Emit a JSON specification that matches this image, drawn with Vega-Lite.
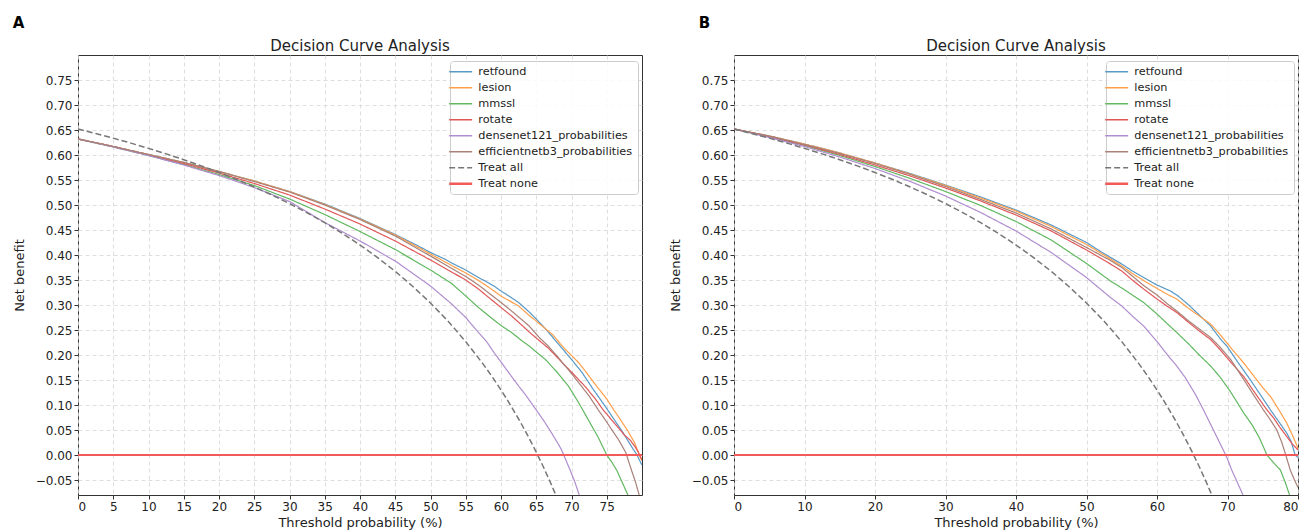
{
  "$schema": "https://vega.github.io/schema/vega-lite/v6.json",
  "padding": {"left": 12, "top": 15, "right": 5, "bottom": 0},
  "spacing": 25,
  "config": {
    "font": "DejaVu Sans",
    "view": {"stroke": "#333333", "strokeWidth": 1},
    "axis": {"labelFont": "DejaVu Sans", "labelFontSize": 12, "labelColor": "#222222", "titleFont": "DejaVu Sans", "titleFontSize": 13, "titleFontWeight": "normal", "titleColor": "#222222", "tickColor": "#333333", "tickSize": 4, "labelPadding": 2, "domain": false, "gridColor": "#d5d5d5", "gridDash": [4, 3], "gridWidth": 0.8},
    "legend": {"orient": "none", "legendX": 372, "legendY": 6, "fillColor": "rgba(255,255,255,0.85)", "strokeColor": "#cccccc", "cornerRadius": 3, "padding": 5, "symbolType": "stroke", "symbolSize": 529, "symbolStrokeWidth": 1.5, "labelFont": "DejaVu Sans", "labelFontSize": 11.3, "labelColor": "#222222", "rowPadding": 4, "labelOffset": 12, "labelLimit": 300}
  },
  "datasets": {
    "A": [
      {"series":"retfound","t":0,"nb":0.632},{"series":"retfound","t":5,"nb":0.617},{"series":"retfound","t":10,"nb":0.601},{"series":"retfound","t":15,"nb":0.585},{"series":"retfound","t":20,"nb":0.567},{"series":"retfound","t":25,"nb":0.548},{"series":"retfound","t":30,"nb":0.527},{"series":"retfound","t":35,"nb":0.502},{"series":"retfound","t":40,"nb":0.473},{"series":"retfound","t":45,"nb":0.441},{"series":"retfound","t":48,"nb":0.42},{"series":"retfound","t":50,"nb":0.405},{"series":"retfound","t":52,"nb":0.392},{"series":"retfound","t":53,"nb":0.384},{"series":"retfound","t":55,"nb":0.37},{"series":"retfound","t":56.8,"nb":0.355},{"series":"retfound","t":58,"nb":0.346},{"series":"retfound","t":59,"nb":0.338},{"series":"retfound","t":60,"nb":0.328},{"series":"retfound","t":61,"nb":0.319},{"series":"retfound","t":62.5,"nb":0.305},{"series":"retfound","t":64,"nb":0.286},{"series":"retfound","t":65,"nb":0.272},{"series":"retfound","t":66,"nb":0.257},{"series":"retfound","t":67,"nb":0.241},{"series":"retfound","t":68.5,"nb":0.216},{"series":"retfound","t":70,"nb":0.191},{"series":"retfound","t":71.5,"nb":0.165},{"series":"retfound","t":73,"nb":0.133},{"series":"retfound","t":74,"nb":0.113},{"series":"retfound","t":74.8,"nb":0.097},{"series":"retfound","t":76,"nb":0.072},{"series":"retfound","t":77.3,"nb":0.045},{"series":"retfound","t":78.5,"nb":0.017},{"series":"retfound","t":79.3,"nb":0.0},{"series":"retfound","t":79.7,"nb":-0.012},{"series":"retfound","t":80,"nb":-0.02},
      {"series":"lesion","t":0,"nb":0.632},{"series":"lesion","t":5,"nb":0.617},{"series":"lesion","t":10,"nb":0.601},{"series":"lesion","t":15,"nb":0.585},{"series":"lesion","t":20,"nb":0.567},{"series":"lesion","t":25,"nb":0.548},{"series":"lesion","t":30,"nb":0.527},{"series":"lesion","t":35,"nb":0.501},{"series":"lesion","t":40,"nb":0.472},{"series":"lesion","t":45,"nb":0.44},{"series":"lesion","t":50,"nb":0.402},{"series":"lesion","t":53,"nb":0.379},{"series":"lesion","t":55,"nb":0.364},{"series":"lesion","t":56.8,"nb":0.349},{"series":"lesion","t":58,"nb":0.338},{"series":"lesion","t":60,"nb":0.318},{"series":"lesion","t":61,"nb":0.31},{"series":"lesion","t":62.5,"nb":0.298},{"series":"lesion","t":64,"nb":0.279},{"series":"lesion","t":65,"nb":0.268},{"series":"lesion","t":66,"nb":0.256},{"series":"lesion","t":67.3,"nb":0.241},{"series":"lesion","t":69,"nb":0.213},{"series":"lesion","t":70,"nb":0.199},{"series":"lesion","t":71,"nb":0.185},{"series":"lesion","t":72,"nb":0.167},{"series":"lesion","t":73,"nb":0.148},{"series":"lesion","t":74,"nb":0.13},{"series":"lesion","t":75,"nb":0.112},{"series":"lesion","t":76,"nb":0.09},{"series":"lesion","t":76.5,"nb":0.08},{"series":"lesion","t":77.3,"nb":0.063},{"series":"lesion","t":78,"nb":0.048},{"series":"lesion","t":79,"nb":0.023},{"series":"lesion","t":79.7,"nb":-0.003},{"series":"lesion","t":80,"nb":-0.012},
      {"series":"mmssl","t":0,"nb":0.632},{"series":"mmssl","t":5,"nb":0.616},{"series":"mmssl","t":10,"nb":0.599},{"series":"mmssl","t":15,"nb":0.581},{"series":"mmssl","t":20,"nb":0.561},{"series":"mmssl","t":25,"nb":0.539},{"series":"mmssl","t":30,"nb":0.512},{"series":"mmssl","t":35,"nb":0.481},{"series":"mmssl","t":40,"nb":0.447},{"series":"mmssl","t":45,"nb":0.411},{"series":"mmssl","t":50,"nb":0.37},{"series":"mmssl","t":53,"nb":0.343},{"series":"mmssl","t":55,"nb":0.318},{"series":"mmssl","t":56.8,"nb":0.295},{"series":"mmssl","t":59,"nb":0.27},{"series":"mmssl","t":60,"nb":0.259},{"series":"mmssl","t":61.5,"nb":0.245},{"series":"mmssl","t":63,"nb":0.228},{"series":"mmssl","t":64,"nb":0.218},{"series":"mmssl","t":65,"nb":0.206},{"series":"mmssl","t":66.3,"nb":0.191},{"series":"mmssl","t":68,"nb":0.165},{"series":"mmssl","t":69.6,"nb":0.137},{"series":"mmssl","t":71,"nb":0.105},{"series":"mmssl","t":72.4,"nb":0.07},{"series":"mmssl","t":73.8,"nb":0.035},{"series":"mmssl","t":75,"nb":0.0},{"series":"mmssl","t":75.7,"nb":-0.014},{"series":"mmssl","t":76.4,"nb":-0.03},{"series":"mmssl","t":77.2,"nb":-0.055},{"series":"mmssl","t":78,"nb":-0.08},
      {"series":"rotate","t":0,"nb":0.632},{"series":"rotate","t":5,"nb":0.617},{"series":"rotate","t":10,"nb":0.6},{"series":"rotate","t":15,"nb":0.583},{"series":"rotate","t":20,"nb":0.564},{"series":"rotate","t":25,"nb":0.543},{"series":"rotate","t":30,"nb":0.52},{"series":"rotate","t":35,"nb":0.492},{"series":"rotate","t":40,"nb":0.462},{"series":"rotate","t":45,"nb":0.428},{"series":"rotate","t":50,"nb":0.39},{"series":"rotate","t":53,"nb":0.366},{"series":"rotate","t":55,"nb":0.35},{"series":"rotate","t":56.8,"nb":0.332},{"series":"rotate","t":58,"nb":0.318},{"series":"rotate","t":60,"nb":0.295},{"series":"rotate","t":61.5,"nb":0.278},{"series":"rotate","t":63,"nb":0.259},{"series":"rotate","t":64,"nb":0.246},{"series":"rotate","t":65.5,"nb":0.228},{"series":"rotate","t":66.7,"nb":0.214},{"series":"rotate","t":68,"nb":0.195},{"series":"rotate","t":69,"nb":0.18},{"series":"rotate","t":70,"nb":0.166},{"series":"rotate","t":71,"nb":0.151},{"series":"rotate","t":72,"nb":0.136},{"series":"rotate","t":73.5,"nb":0.11},{"series":"rotate","t":74.5,"nb":0.09},{"series":"rotate","t":75.7,"nb":0.07},{"series":"rotate","t":76.5,"nb":0.057},{"series":"rotate","t":77.5,"nb":0.04},{"series":"rotate","t":78.3,"nb":0.03},{"series":"rotate","t":79,"nb":0.017},{"series":"rotate","t":79.5,"nb":0.005},{"series":"rotate","t":80,"nb":-0.01},
      {"series":"densenet121_probabilities","t":0,"nb":0.632},{"series":"densenet121_probabilities","t":5,"nb":0.616},{"series":"densenet121_probabilities","t":10,"nb":0.599},{"series":"densenet121_probabilities","t":15,"nb":0.58},{"series":"densenet121_probabilities","t":20,"nb":0.559},{"series":"densenet121_probabilities","t":25,"nb":0.535},{"series":"densenet121_probabilities","t":30,"nb":0.507},{"series":"densenet121_probabilities","t":35,"nb":0.465},{"series":"densenet121_probabilities","t":40,"nb":0.428},{"series":"densenet121_probabilities","t":45,"nb":0.388},{"series":"densenet121_probabilities","t":50,"nb":0.338},{"series":"densenet121_probabilities","t":53,"nb":0.302},{"series":"densenet121_probabilities","t":55,"nb":0.275},{"series":"densenet121_probabilities","t":56.8,"nb":0.245},{"series":"densenet121_probabilities","t":58,"nb":0.226},{"series":"densenet121_probabilities","t":59,"nb":0.205},{"series":"densenet121_probabilities","t":60,"nb":0.186},{"series":"densenet121_probabilities","t":61.5,"nb":0.157},{"series":"densenet121_probabilities","t":62.5,"nb":0.138},{"series":"densenet121_probabilities","t":63.5,"nb":0.12},{"series":"densenet121_probabilities","t":64.5,"nb":0.1},{"series":"densenet121_probabilities","t":65.3,"nb":0.084},{"series":"densenet121_probabilities","t":66,"nb":0.07},{"series":"densenet121_probabilities","t":67,"nb":0.048},{"series":"densenet121_probabilities","t":68,"nb":0.025},{"series":"densenet121_probabilities","t":68.6,"nb":0.01},{"series":"densenet121_probabilities","t":69.2,"nb":-0.01},{"series":"densenet121_probabilities","t":69.8,"nb":-0.03},{"series":"densenet121_probabilities","t":70.5,"nb":-0.055},{"series":"densenet121_probabilities","t":71.1,"nb":-0.08},
      {"series":"efficientnetb3_probabilities","t":0,"nb":0.632},{"series":"efficientnetb3_probabilities","t":5,"nb":0.617},{"series":"efficientnetb3_probabilities","t":10,"nb":0.601},{"series":"efficientnetb3_probabilities","t":15,"nb":0.585},{"series":"efficientnetb3_probabilities","t":20,"nb":0.567},{"series":"efficientnetb3_probabilities","t":25,"nb":0.547},{"series":"efficientnetb3_probabilities","t":30,"nb":0.526},{"series":"efficientnetb3_probabilities","t":35,"nb":0.5},{"series":"efficientnetb3_probabilities","t":40,"nb":0.471},{"series":"efficientnetb3_probabilities","t":45,"nb":0.438},{"series":"efficientnetb3_probabilities","t":50,"nb":0.398},{"series":"efficientnetb3_probabilities","t":55,"nb":0.357},{"series":"efficientnetb3_probabilities","t":56.8,"nb":0.34},{"series":"efficientnetb3_probabilities","t":58,"nb":0.327},{"series":"efficientnetb3_probabilities","t":60,"nb":0.305},{"series":"efficientnetb3_probabilities","t":61.5,"nb":0.288},{"series":"efficientnetb3_probabilities","t":63,"nb":0.27},{"series":"efficientnetb3_probabilities","t":64,"nb":0.258},{"series":"efficientnetb3_probabilities","t":65.5,"nb":0.234},{"series":"efficientnetb3_probabilities","t":66.7,"nb":0.218},{"series":"efficientnetb3_probabilities","t":68,"nb":0.197},{"series":"efficientnetb3_probabilities","t":69,"nb":0.18},{"series":"efficientnetb3_probabilities","t":70,"nb":0.163},{"series":"efficientnetb3_probabilities","t":71,"nb":0.145},{"series":"efficientnetb3_probabilities","t":72.5,"nb":0.118},{"series":"efficientnetb3_probabilities","t":73.8,"nb":0.09},{"series":"efficientnetb3_probabilities","t":74.7,"nb":0.072},{"series":"efficientnetb3_probabilities","t":75.5,"nb":0.055},{"series":"efficientnetb3_probabilities","t":76.7,"nb":0.03},{"series":"efficientnetb3_probabilities","t":77.7,"nb":0.005},{"series":"efficientnetb3_probabilities","t":78.5,"nb":-0.03},{"series":"efficientnetb3_probabilities","t":79.1,"nb":-0.055},{"series":"efficientnetb3_probabilities","t":79.6,"nb":-0.08},
      {"series":"Treat all","t":0,"nb":0.652},{"series":"Treat all","t":2.5,"nb":0.6431},{"series":"Treat all","t":5,"nb":0.6337},{"series":"Treat all","t":7.5,"nb":0.6238},{"series":"Treat all","t":10,"nb":0.6133},{"series":"Treat all","t":12.5,"nb":0.6023},{"series":"Treat all","t":15,"nb":0.5906},{"series":"Treat all","t":17.5,"nb":0.5782},{"series":"Treat all","t":20,"nb":0.565},{"series":"Treat all","t":22.5,"nb":0.551},{"series":"Treat all","t":25,"nb":0.536},{"series":"Treat all","t":27.5,"nb":0.52},{"series":"Treat all","t":30,"nb":0.5029},{"series":"Treat all","t":32.5,"nb":0.4844},{"series":"Treat all","t":35,"nb":0.4646},{"series":"Treat all","t":37.5,"nb":0.4432},{"series":"Treat all","t":40,"nb":0.42},{"series":"Treat all","t":42.5,"nb":0.3948},{"series":"Treat all","t":45,"nb":0.3673},{"series":"Treat all","t":47.5,"nb":0.3371},{"series":"Treat all","t":50,"nb":0.304},{"series":"Treat all","t":52.5,"nb":0.2674},{"series":"Treat all","t":55,"nb":0.2267},{"series":"Treat all","t":57.5,"nb":0.1812},{"series":"Treat all","t":58.75,"nb":0.1564},{"series":"Treat all","t":60,"nb":0.13},{"series":"Treat all","t":61,"nb":0.1077},{"series":"Treat all","t":62.5,"nb":0.072},{"series":"Treat all","t":63,"nb":0.0595},{"series":"Treat all","t":64,"nb":0.0333},{"series":"Treat all","t":65,"nb":0.0057},{"series":"Treat all","t":66,"nb":-0.0235},{"series":"Treat all","t":67,"nb":-0.0546},{"series":"Treat all","t":68,"nb":-0.0875},
      {"series":"Treat none","t":0,"nb":0},{"series":"Treat none","t":80,"nb":0}
    ],
    "B": [
      {"series":"retfound","t":0,"nb":0.652},{"series":"retfound","t":5,"nb":0.638},{"series":"retfound","t":10,"nb":0.622},{"series":"retfound","t":15,"nb":0.604},{"series":"retfound","t":20,"nb":0.584},{"series":"retfound","t":25,"nb":0.563},{"series":"retfound","t":30,"nb":0.54},{"series":"retfound","t":35,"nb":0.516},{"series":"retfound","t":40,"nb":0.49},{"series":"retfound","t":45,"nb":0.46},{"series":"retfound","t":50,"nb":0.425},{"series":"retfound","t":52,"nb":0.407},{"series":"retfound","t":53.4,"nb":0.395},{"series":"retfound","t":55,"nb":0.382},{"series":"retfound","t":56.5,"nb":0.368},{"series":"retfound","t":58.1,"nb":0.355},{"series":"retfound","t":60,"nb":0.34},{"series":"retfound","t":61.9,"nb":0.328},{"series":"retfound","t":63,"nb":0.318},{"series":"retfound","t":64.5,"nb":0.3},{"series":"retfound","t":66,"nb":0.28},{"series":"retfound","t":67.6,"nb":0.258},{"series":"retfound","t":69,"nb":0.232},{"series":"retfound","t":69.9,"nb":0.218},{"series":"retfound","t":71.5,"nb":0.185},{"series":"retfound","t":73.2,"nb":0.151},{"series":"retfound","t":74.5,"nb":0.124},{"series":"retfound","t":76.1,"nb":0.09},{"series":"retfound","t":77.2,"nb":0.068},{"series":"retfound","t":78.4,"nb":0.044},{"series":"retfound","t":79,"nb":0.028},{"series":"retfound","t":79.6,"nb":0.0},{"series":"retfound","t":80,"nb":-0.005},
      {"series":"lesion","t":0,"nb":0.652},{"series":"lesion","t":5,"nb":0.638},{"series":"lesion","t":10,"nb":0.622},{"series":"lesion","t":15,"nb":0.604},{"series":"lesion","t":20,"nb":0.584},{"series":"lesion","t":25,"nb":0.562},{"series":"lesion","t":30,"nb":0.539},{"series":"lesion","t":35,"nb":0.514},{"series":"lesion","t":40,"nb":0.488},{"series":"lesion","t":45,"nb":0.457},{"series":"lesion","t":50,"nb":0.421},{"series":"lesion","t":53.4,"nb":0.392},{"series":"lesion","t":55,"nb":0.378},{"series":"lesion","t":56.5,"nb":0.363},{"series":"lesion","t":58.1,"nb":0.349},{"series":"lesion","t":60,"nb":0.333},{"series":"lesion","t":61.5,"nb":0.321},{"series":"lesion","t":62.8,"nb":0.312},{"series":"lesion","t":64.5,"nb":0.293},{"series":"lesion","t":66,"nb":0.278},{"series":"lesion","t":67.6,"nb":0.262},{"series":"lesion","t":69,"nb":0.24},{"series":"lesion","t":70.5,"nb":0.214},{"series":"lesion","t":72.3,"nb":0.184},{"series":"lesion","t":74,"nb":0.153},{"series":"lesion","t":75,"nb":0.135},{"series":"lesion","t":76.1,"nb":0.117},{"series":"lesion","t":77.3,"nb":0.09},{"series":"lesion","t":78.4,"nb":0.064},{"series":"lesion","t":79.2,"nb":0.04},{"series":"lesion","t":79.9,"nb":0.017},{"series":"lesion","t":80,"nb":0.01},
      {"series":"mmssl","t":0,"nb":0.652},{"series":"mmssl","t":5,"nb":0.636},{"series":"mmssl","t":10,"nb":0.619},{"series":"mmssl","t":15,"nb":0.599},{"series":"mmssl","t":20,"nb":0.577},{"series":"mmssl","t":25,"nb":0.553},{"series":"mmssl","t":30,"nb":0.527},{"series":"mmssl","t":35,"nb":0.499},{"series":"mmssl","t":40,"nb":0.467},{"series":"mmssl","t":45,"nb":0.43},{"series":"mmssl","t":50,"nb":0.383},{"series":"mmssl","t":53.4,"nb":0.348},{"series":"mmssl","t":55,"nb":0.334},{"series":"mmssl","t":56.5,"nb":0.32},{"series":"mmssl","t":58.1,"nb":0.305},{"series":"mmssl","t":60,"nb":0.282},{"series":"mmssl","t":61.5,"nb":0.262},{"series":"mmssl","t":62.8,"nb":0.245},{"series":"mmssl","t":64.5,"nb":0.222},{"series":"mmssl","t":66,"nb":0.2},{"series":"mmssl","t":67.6,"nb":0.178},{"series":"mmssl","t":69,"nb":0.155},{"series":"mmssl","t":70.5,"nb":0.125},{"series":"mmssl","t":72.3,"nb":0.084},{"series":"mmssl","t":73.5,"nb":0.06},{"series":"mmssl","t":74.5,"nb":0.035},{"series":"mmssl","t":75.6,"nb":0.0},{"series":"mmssl","t":76.5,"nb":-0.015},{"series":"mmssl","t":77.5,"nb":-0.03},{"series":"mmssl","t":78.2,"nb":-0.055},{"series":"mmssl","t":78.8,"nb":-0.08},
      {"series":"rotate","t":0,"nb":0.652},{"series":"rotate","t":5,"nb":0.637},{"series":"rotate","t":10,"nb":0.62},{"series":"rotate","t":15,"nb":0.601},{"series":"rotate","t":20,"nb":0.58},{"series":"rotate","t":25,"nb":0.558},{"series":"rotate","t":30,"nb":0.534},{"series":"rotate","t":35,"nb":0.508},{"series":"rotate","t":40,"nb":0.48},{"series":"rotate","t":45,"nb":0.448},{"series":"rotate","t":50,"nb":0.41},{"series":"rotate","t":53.4,"nb":0.382},{"series":"rotate","t":55,"nb":0.368},{"series":"rotate","t":56.5,"nb":0.35},{"series":"rotate","t":58.1,"nb":0.332},{"series":"rotate","t":60,"nb":0.312},{"series":"rotate","t":61.5,"nb":0.297},{"series":"rotate","t":62.8,"nb":0.285},{"series":"rotate","t":64.5,"nb":0.265},{"series":"rotate","t":66,"nb":0.248},{"series":"rotate","t":67.6,"nb":0.231},{"series":"rotate","t":69,"nb":0.21},{"series":"rotate","t":70.5,"nb":0.185},{"series":"rotate","t":72.3,"nb":0.157},{"series":"rotate","t":74,"nb":0.122},{"series":"rotate","t":75.6,"nb":0.09},{"series":"rotate","t":76.5,"nb":0.075},{"series":"rotate","t":77.4,"nb":0.056},{"series":"rotate","t":78.4,"nb":0.037},{"series":"rotate","t":79.2,"nb":0.022},{"series":"rotate","t":80,"nb":0.01},
      {"series":"densenet121_probabilities","t":0,"nb":0.652},{"series":"densenet121_probabilities","t":5,"nb":0.635},{"series":"densenet121_probabilities","t":10,"nb":0.617},{"series":"densenet121_probabilities","t":15,"nb":0.596},{"series":"densenet121_probabilities","t":20,"nb":0.573},{"series":"densenet121_probabilities","t":25,"nb":0.547},{"series":"densenet121_probabilities","t":30,"nb":0.518},{"series":"densenet121_probabilities","t":35,"nb":0.485},{"series":"densenet121_probabilities","t":40,"nb":0.448},{"series":"densenet121_probabilities","t":45,"nb":0.405},{"series":"densenet121_probabilities","t":50,"nb":0.355},{"series":"densenet121_probabilities","t":53.4,"nb":0.315},{"series":"densenet121_probabilities","t":55,"nb":0.298},{"series":"densenet121_probabilities","t":56.5,"nb":0.278},{"series":"densenet121_probabilities","t":58.1,"nb":0.258},{"series":"densenet121_probabilities","t":60,"nb":0.227},{"series":"densenet121_probabilities","t":61.5,"nb":0.2},{"series":"densenet121_probabilities","t":62.8,"nb":0.178},{"series":"densenet121_probabilities","t":64,"nb":0.155},{"series":"densenet121_probabilities","t":65.5,"nb":0.12},{"series":"densenet121_probabilities","t":66.6,"nb":0.09},{"series":"densenet121_probabilities","t":68,"nb":0.05},{"series":"densenet121_probabilities","t":69.4,"nb":0.01},{"series":"densenet121_probabilities","t":70,"nb":-0.008},{"series":"densenet121_probabilities","t":70.6,"nb":-0.03},{"series":"densenet121_probabilities","t":71.4,"nb":-0.055},{"series":"densenet121_probabilities","t":72.2,"nb":-0.08},
      {"series":"efficientnetb3_probabilities","t":0,"nb":0.652},{"series":"efficientnetb3_probabilities","t":5,"nb":0.638},{"series":"efficientnetb3_probabilities","t":10,"nb":0.621},{"series":"efficientnetb3_probabilities","t":15,"nb":0.603},{"series":"efficientnetb3_probabilities","t":20,"nb":0.583},{"series":"efficientnetb3_probabilities","t":25,"nb":0.561},{"series":"efficientnetb3_probabilities","t":30,"nb":0.537},{"series":"efficientnetb3_probabilities","t":35,"nb":0.511},{"series":"efficientnetb3_probabilities","t":40,"nb":0.484},{"series":"efficientnetb3_probabilities","t":45,"nb":0.452},{"series":"efficientnetb3_probabilities","t":50,"nb":0.415},{"series":"efficientnetb3_probabilities","t":53.4,"nb":0.389},{"series":"efficientnetb3_probabilities","t":55,"nb":0.375},{"series":"efficientnetb3_probabilities","t":56.5,"nb":0.358},{"series":"efficientnetb3_probabilities","t":58.1,"nb":0.339},{"series":"efficientnetb3_probabilities","t":60,"nb":0.32},{"series":"efficientnetb3_probabilities","t":61.5,"nb":0.302},{"series":"efficientnetb3_probabilities","t":62.8,"nb":0.288},{"series":"efficientnetb3_probabilities","t":64.5,"nb":0.268},{"series":"efficientnetb3_probabilities","t":66,"nb":0.252},{"series":"efficientnetb3_probabilities","t":67.6,"nb":0.235},{"series":"efficientnetb3_probabilities","t":69,"nb":0.215},{"series":"efficientnetb3_probabilities","t":70.5,"nb":0.19},{"series":"efficientnetb3_probabilities","t":72.3,"nb":0.151},{"series":"efficientnetb3_probabilities","t":73.8,"nb":0.118},{"series":"efficientnetb3_probabilities","t":75.1,"nb":0.09},{"series":"efficientnetb3_probabilities","t":76,"nb":0.072},{"series":"efficientnetb3_probabilities","t":77,"nb":0.05},{"series":"efficientnetb3_probabilities","t":77.7,"nb":0.025},{"series":"efficientnetb3_probabilities","t":78.2,"nb":0.003},{"series":"efficientnetb3_probabilities","t":78.9,"nb":-0.03},{"series":"efficientnetb3_probabilities","t":79.5,"nb":-0.05},{"series":"efficientnetb3_probabilities","t":80,"nb":-0.065},
      {"series":"Treat all","t":0,"nb":0.652},{"series":"Treat all","t":2.5,"nb":0.6431},{"series":"Treat all","t":5,"nb":0.6337},{"series":"Treat all","t":7.5,"nb":0.6238},{"series":"Treat all","t":10,"nb":0.6133},{"series":"Treat all","t":12.5,"nb":0.6023},{"series":"Treat all","t":15,"nb":0.5906},{"series":"Treat all","t":17.5,"nb":0.5782},{"series":"Treat all","t":20,"nb":0.565},{"series":"Treat all","t":22.5,"nb":0.551},{"series":"Treat all","t":25,"nb":0.536},{"series":"Treat all","t":27.5,"nb":0.52},{"series":"Treat all","t":30,"nb":0.5029},{"series":"Treat all","t":32.5,"nb":0.4844},{"series":"Treat all","t":35,"nb":0.4646},{"series":"Treat all","t":37.5,"nb":0.4432},{"series":"Treat all","t":40,"nb":0.42},{"series":"Treat all","t":42.5,"nb":0.3948},{"series":"Treat all","t":45,"nb":0.3673},{"series":"Treat all","t":47.5,"nb":0.3371},{"series":"Treat all","t":50,"nb":0.304},{"series":"Treat all","t":52.5,"nb":0.2674},{"series":"Treat all","t":55,"nb":0.2267},{"series":"Treat all","t":57.5,"nb":0.1812},{"series":"Treat all","t":58.75,"nb":0.1564},{"series":"Treat all","t":60,"nb":0.13},{"series":"Treat all","t":61,"nb":0.1077},{"series":"Treat all","t":62.5,"nb":0.072},{"series":"Treat all","t":63,"nb":0.0595},{"series":"Treat all","t":64,"nb":0.0333},{"series":"Treat all","t":65,"nb":0.0057},{"series":"Treat all","t":66,"nb":-0.0235},{"series":"Treat all","t":67,"nb":-0.0546},{"series":"Treat all","t":68,"nb":-0.0875},
      {"series":"Treat none","t":0,"nb":0},{"series":"Treat none","t":80,"nb":0}
    ]
  },
  "hconcat": [
    {
      "title": {"text": "A", "anchor": "start", "fontSize": 15, "fontWeight": "bold", "color": "#000000", "offset": 8},
      "vconcat": [
        {
          "width": 564, "height": 440,
          "title": {"text": "Decision Curve Analysis", "fontSize": 15, "fontWeight": "normal", "color": "#222222", "anchor": "middle", "offset": 1},
          "data": {"name": "A"},
          "mark": {"type": "line", "clip": true},
          "encoding": {
            "x": {"field": "t", "type": "quantitative", "scale": {"domain": [0, 80], "nice": false}, "axis": {"values": [0,5,10,15,20,25,30,35,40,45,50,55,60,65,70,75], "title": "Threshold probability (%)", "titlePadding": 4}},
            "y": {"field": "nb", "type": "quantitative", "scale": {"domain": [-0.08, 0.8], "nice": false, "zero": false}, "axis": {"values": [-0.05,0,0.05,0.1,0.15,0.2,0.25,0.3,0.35,0.4,0.45,0.5,0.55,0.6,0.65,0.7,0.75], "format": ".2f", "title": "Net benefit", "titlePadding": 9}},
            "color": {"field": "series", "type": "nominal", "scale": {"domain": ["retfound","lesion","mmssl","rotate","densenet121_probabilities","efficientnetb3_probabilities","Treat all","Treat none"], "range": ["#5799c7","#ff9f4a","#61b861","#e05758","#af8dce","#a98178","#777777","#f25a5a"]}, "legend": {"title": null, "encode": {"symbols": {"update": {"strokeWidth": {"signal": "datum.value === 'Treat none' ? 2.5 : 1.5"}}}}}},
            "strokeDash": {"field": "series", "type": "nominal", "scale": {"domain": ["retfound","lesion","mmssl","rotate","densenet121_probabilities","efficientnetb3_probabilities","Treat all","Treat none"], "range": [[1,0],[1,0],[1,0],[1,0],[1,0],[1,0],[6,3],[1,0]]}, "legend": {"title": null}},
            "strokeWidth": {"condition": [{"test": "datum.series === 'Treat none'", "value": 2}, {"test": "datum.series === 'Treat all'", "value": 1.5}], "value": 1.2}
          }
        }
      ]
    },
    {
      "title": {"text": "B", "anchor": "start", "fontSize": 15, "fontWeight": "bold", "color": "#000000", "offset": 8, "dx": 30},
      "vconcat": [
        {
          "width": 564, "height": 440,
          "title": {"text": "Decision Curve Analysis", "fontSize": 15, "fontWeight": "normal", "color": "#222222", "anchor": "middle", "offset": 1},
          "data": {"name": "B"},
          "mark": {"type": "line", "clip": true},
          "encoding": {
            "x": {"field": "t", "type": "quantitative", "scale": {"domain": [0, 80], "nice": false}, "axis": {"values": [0,10,20,30,40,50,60,70,80], "title": "Threshold probability (%)", "titlePadding": 4}},
            "y": {"field": "nb", "type": "quantitative", "scale": {"domain": [-0.08, 0.8], "nice": false, "zero": false}, "axis": {"values": [-0.05,0,0.05,0.1,0.15,0.2,0.25,0.3,0.35,0.4,0.45,0.5,0.55,0.6,0.65,0.7,0.75], "format": ".2f", "title": "Net benefit", "titlePadding": 9}},
            "color": {"field": "series", "type": "nominal", "scale": {"domain": ["retfound","lesion","mmssl","rotate","densenet121_probabilities","efficientnetb3_probabilities","Treat all","Treat none"], "range": ["#5799c7","#ff9f4a","#61b861","#e05758","#af8dce","#a98178","#777777","#f25a5a"]}, "legend": {"title": null, "encode": {"symbols": {"update": {"strokeWidth": {"signal": "datum.value === 'Treat none' ? 2.5 : 1.5"}}}}}},
            "strokeDash": {"field": "series", "type": "nominal", "scale": {"domain": ["retfound","lesion","mmssl","rotate","densenet121_probabilities","efficientnetb3_probabilities","Treat all","Treat none"], "range": [[1,0],[1,0],[1,0],[1,0],[1,0],[1,0],[6,3],[1,0]]}, "legend": {"title": null}},
            "strokeWidth": {"condition": [{"test": "datum.series === 'Treat none'", "value": 2}, {"test": "datum.series === 'Treat all'", "value": 1.5}], "value": 1.2}
          }
        }
      ]
    }
  ],
  "resolve": {"scale": {"color": "independent", "strokeDash": "independent"}, "legend": {"color": "independent", "strokeDash": "independent"}}
}
